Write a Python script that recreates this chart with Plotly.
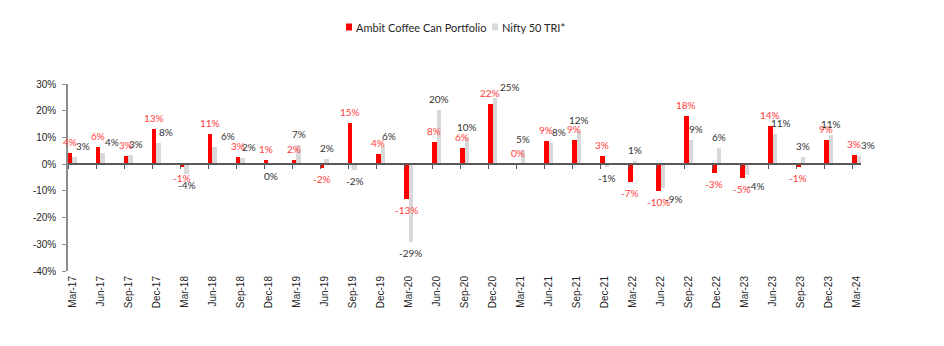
import plotly.graph_objects as go

# Quarterly returns (%)
quarters = ["Mar-17", "Jun-17", "Sep-17", "Dec-17", "Mar-18", "Jun-18", "Sep-18", "Dec-18",
            "Mar-19", "Jun-19", "Sep-19", "Dec-19", "Mar-20", "Jun-20", "Sep-20", "Dec-20",
            "Mar-21", "Jun-21", "Sep-21", "Dec-21", "Mar-22", "Jun-22", "Sep-22", "Dec-22",
            "Mar-23", "Jun-23", "Sep-23", "Dec-23", "Mar-24"]
coffee_can = [4.1, 6.4, 3.0, 13.2, -1.2, 11.4, 2.8, 1.4, 1.6, -1.6, 15.4, 3.8, -13.0, 8.4,
              6.1, 22.4, 0.2, 8.8, 9.1, 3.0, -6.6, -10.1, 17.9, -3.2, -5.3, 14.4, -1.1, 9.0, 3.4]
nifty_tri = [2.6, 4.3, 3.3, 7.9, -3.6, 6.3, 2.4, -0.3, 7.2, 1.9, -2.1, 6.3, -29.1, 20.2,
             9.8, 24.9, 5.3, 7.8, 12.4, -1.2, 1.0, -8.9, 8.9, 6.1, -4.0, 11.2, 2.7, 11.0, 3.0]
y_ticks = [-40, -30, -20, -10, 0, 10, 20, 30]
y_tick_text = ["-40%", "-30%", "-20%", "-10%", "0%", "10%", "20%", "30%"]
series_names = ["Ambit Coffee Can Portfolio", "Nifty 50 TRI*"]

RED = "#FF0000"
GREY = "#D9D9D9"
RED_TEXT = "#FF3B3B"
DARK_TEXT = "#333333"
BAR_W = 0.16

# horizontal pixel nudges for index labels that would otherwise collide
grey_label_nudge = {"Mar-17": 8, "Jun-17": 9, "Sep-17": 5, "Dec-17": 7, "Jun-18": 13,
                    "Sep-18": 6, "Dec-19": 6, "Dec-20": 15, "Jun-21": 8, "Jun-22": 11,
                    "Sep-22": 5, "Mar-23": 9, "Jun-23": 6, "Mar-24": 9}

W, H = 944, 346
M_L, M_R, M_T, M_B = 68, 83, 84, 75
PW, PH = W - M_L - M_R, H - M_T - M_B


def px_x(p):
    return (p - M_L) / PW


def px_y(p):
    return 1 - (p - M_T) / PH


xs = list(range(len(quarters)))

fig = go.Figure()
fig.add_trace(go.Bar(x=xs, y=coffee_can, width=BAR_W, offset=0, marker_color=RED,
                     marker_line_width=0, name=series_names[0], showlegend=False))
fig.add_trace(go.Bar(x=xs, y=nifty_tri, width=BAR_W, offset=BAR_W, marker_color=GREY,
                     marker_line_width=0, name=series_names[1], showlegend=False))

label_font = dict(family="Lato, sans-serif", size=10)
annotations = []
for i, q in enumerate(quarters):
    for val, off, col, dx in ((coffee_can[i], BAR_W / 2, RED_TEXT, 0),
                              (nifty_tri[i], BAR_W * 1.5, DARK_TEXT, grey_label_nudge.get(q, 0))):
        up = val >= 0
        annotations.append(dict(
            x=i + off, y=val, xref="x", yref="y", text=f"{round(val)}%",
            showarrow=False, xanchor="center", yanchor="bottom" if up else "top",
            yshift=3 if up else -3, xshift=dx, font=dict(color=col, **label_font)))

# legend drawn as small swatches with labels
leg_y = 27
leg_items = [(346, RED, series_names[0]), (492, GREY, series_names[1])]
shapes = []
for x0, col, name in leg_items:
    shapes.append(dict(type="rect", xref="paper", yref="paper",
                       x0=px_x(x0), x1=px_x(x0 + 6), y0=px_y(leg_y + 3.5), y1=px_y(leg_y - 3.5),
                       fillcolor=col, line_width=0))
    annotations.append(dict(x=px_x(x0 + 8), y=px_y(leg_y), xref="paper", yref="paper",
                            text=name, showarrow=False, xanchor="left", yanchor="middle",
                            font=dict(family="Lato, sans-serif", size=11, color="#262626")))

x_range = [0, len(quarters) - 1 + 2 * BAR_W]
y_range = [y_ticks[0], y_ticks[-1]]
axis_font = dict(family="Liberation Sans, Arial, sans-serif", size=10, color="#262626")

fig.update_layout(
    width=W, height=H, margin=dict(l=M_L, r=M_R, t=M_T, b=M_B),
    paper_bgcolor="white", plot_bgcolor="white", barmode="overlay", bargap=0,
    showlegend=False, annotations=annotations, shapes=shapes,
    xaxis=dict(range=x_range, tickvals=[i + BAR_W for i in xs], ticktext=quarters,
               tickangle=-90, ticks="", showline=False, showgrid=False, zeroline=False,
               tickfont=axis_font, ticklabelstandoff=2),
    xaxis2=dict(range=x_range, overlaying="x", anchor="free",
                position=(0 - y_range[0]) / (y_range[1] - y_range[0]),
                tickvals=xs, showticklabels=False, ticks="outside", ticklen=4, tickwidth=1,
                tickcolor="#595959", showline=True, linecolor="#595959", linewidth=1.5,
                showgrid=False, zeroline=False),
    yaxis=dict(range=y_range, tickvals=y_ticks, ticktext=y_tick_text, showgrid=False,
               zeroline=False, showline=True, linecolor="#8C8C8C", linewidth=1.5,
               ticks="outside", ticklen=4, tickcolor="#8C8C8C", tickfont=axis_font,
               ticklabelstandoff=4),
)

# invisible trace so the zero-line axis gets drawn
fig.add_trace(go.Scatter(x=[0], y=[0], xaxis="x2", mode="markers", marker_opacity=0,
                         showlegend=False, hoverinfo="skip"))

fig.write_html("out.html")
